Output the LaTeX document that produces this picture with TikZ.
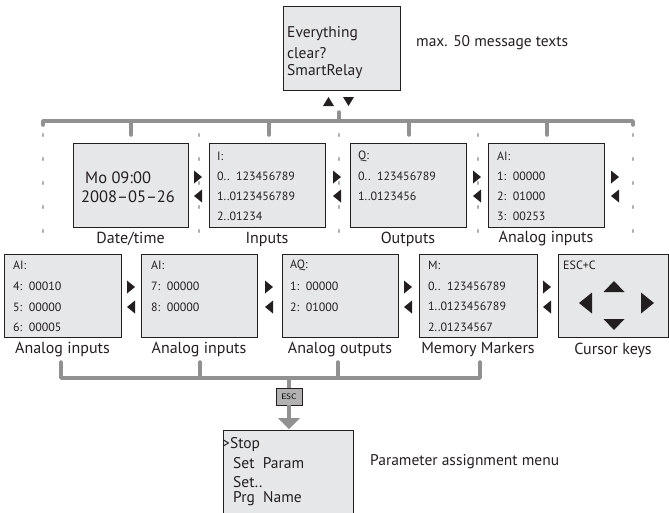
\documentclass[tikz,border=0pt]{standalone}
\usepackage{fontspec}
\setmainfont{PT Sans}
\definecolor{boxgray}{RGB}{230,231,232}
\definecolor{bargray}{RGB}{145,145,145}
\definecolor{dotgray}{RGB}{175,175,175}
\definecolor{ink}{RGB}{35,31,32}
\newcommand\TriR[2]{\fill[ink, shift={(#1,#2)}] (-4,-6.5) -- (4,0) -- (-4,6.5) -- cycle;}
\newcommand\TriL[2]{\fill[ink, shift={(#1,#2)}] (4,-6.5) -- (-4,0) -- (4,6.5) -- cycle;}
\begin{document}
\begin{tikzpicture}[x=1pt,y=-1pt,
  box/.style={draw=ink, fill=boxgray, line width=0.8pt, inner sep=0pt, anchor=north west},
  bar/.style={draw=bargray, line width=3.5pt, line cap=round, line join=round},
  dots/.style={draw=dotgray, line width=2.6pt, line cap=round, dash pattern=on 2pt off 22pt},
  small/.style={text=ink, inner sep=0pt, anchor=west, font=\fontsize{12}{14}\selectfont},
  big/.style={text=ink, inner sep=0pt, anchor=west, font=\fontsize{15.5}{18}\selectfont},
  lbl/.style={text=ink, inner sep=0pt, font=\fontsize{16}{19}\selectfont}]
\useasboundingbox (0,0) rectangle (669,512);

% ---- top message box ----
\node[box, minimum width=117pt, minimum height=84pt] (msg) at (283,6) {};
\node[big] (m1) at (287,34) {Everything};
\node[big] (m2) at (287,53) {clear?};
\node[big] (m3) at (287,72) {SmartRelay};
\node[big] (mtxt) at (416,43) {max. 50 message texts};
\fill[ink] (323,106) -- (334,106) -- (328.5,97) -- cycle;
\fill[ink] (343,97) -- (354,97) -- (348.5,106) -- cycle;

% ---- top bar ----
\coordinate (tl) at (43,121);
\coordinate (tr) at (633,121);
\draw[bar] (43,125) -- (tl) -- (tr) -- (633,125);
\draw[bar] (339,112) -- (339,121);
\foreach \x in {131,269,409,547} \draw[bar] (\x,121) -- (\x,135);
\foreach \x in {43,199,339,478,633} \draw[dots] (\x,134) -- (\x,246);

% ---- top row boxes ----
\node[box, minimum width=115pt, minimum height=84pt] (date) at (73,143) {};
\node[box, minimum width=116pt, minimum height=84pt] (inp) at (209,143) {};
\node[box, minimum width=116pt, minimum height=84pt] (outp) at (350,143) {};
\node[box, minimum width=116pt, minimum height=84pt] (ai1) at (488,143) {};

\node[text=ink, inner sep=0pt, anchor=west, font=\fontsize{16.5}{19}\selectfont] (d1) at (85,178) {Mo 09:00};
\node[text=ink, inner sep=0pt, anchor=west, font=\fontsize{16.5}{19}\selectfont] (d2) at (81,197) {2008--05--26};

\node[small] (i0) at (217,156) {I:};
\node[small] (i1) at (217,176) {0..\ \ 123456789};
\node[small] (i2) at (217,196) {1..0123456789};
\node[small] (i3) at (217,216) {2..01234};

\node[small] (q0) at (358,156) {Q:};
\node[small] (q1) at (358,176) {0..\ \ 123456789};
\node[small] (q2) at (358,196) {1..0123456};

\node[small] (a0) at (497,156) {AI:};
\node[small] (a1) at (497,176) {1:\ \ 00000};
\node[small] (a2) at (497,196) {2:\ \ 01000};
\node[small] (a3) at (497,216) {3:\ \ 00253};

\node[lbl] (ldate) at (130.5,239) {Date/time};
\node[lbl] (linp) at (267,239) {Inputs};
\node[lbl] (lout) at (408,239) {Outputs};
\node[lbl] (lai1) at (546,239) {Analog inputs};

\foreach \x in {198,337,477,615} {\TriR{\x}{177}\TriL{\x}{196}}

% ---- bottom row boxes ----
\node[box, minimum width=117pt, minimum height=83pt] (b1) at (4,254) {};
\node[box, minimum width=116pt, minimum height=83pt] (b2) at (141,254) {};
\node[box, minimum width=116pt, minimum height=83pt] (b3) at (282,254) {};
\node[box, minimum width=118pt, minimum height=83pt] (b4) at (419,254) {};
\node[box, minimum width=110pt, minimum height=83pt] (b5) at (558,254) {};

\node[small] (b1t0) at (13,265) {AI:};
\node[small] (b1t1) at (13,286) {4:\ \ 00010};
\node[small] (b1t2) at (13,307) {5:\ \ 00000};
\node[small] (b1t3) at (13,327) {6:\ \ 00005};

\node[small] (b2t0) at (151,265) {AI:};
\node[small] (b2t1) at (151,286) {7:\ \ 00000};
\node[small] (b2t2) at (151,307) {8:\ \ 00000};

\node[small] (b3t0) at (290,265) {AQ:};
\node[small] (b3t1) at (290,286) {1:\ \ 00000};
\node[small] (b3t2) at (290,307) {2:\ \ 01000};

\node[small] (b4t0) at (428,265) {M:};
\node[small] (b4t1) at (428,286) {0..\ \ 123456789};
\node[small] (b4t2) at (428,306) {1..0123456789};
\node[small] (b4t3) at (428,327) {2..01234567};

\node[small] (b5t0) at (563,265) {ESC+C};
\fill[ink] (603.5,292) -- (624.5,292) -- (614,281) -- cycle;
\fill[ink] (603.5,319) -- (624.5,319) -- (614,330) -- cycle;
\fill[ink] (592,292.5) -- (592,313.5) -- (579,303) -- cycle;
\fill[ink] (641,292.5) -- (641,313.5) -- (654,303) -- cycle;

\node[lbl] (lb1) at (62.5,350) {Analog inputs};
\node[lbl] (lb2) at (199,350) {Analog inputs};
\node[lbl] (lb3) at (340,350) {Analog outputs};
\node[lbl] (lb4) at (478,350) {Memory Markers};
\node[lbl] (lb5) at (613,350) {Cursor keys};

\foreach \x in {131,269,408,547} {\TriR{\x}{287}\TriL{\x}{307}}

% ---- bottom bar, ESC ----
\coordinate (bl) at (61,378);
\coordinate (br) at (480,378);
\draw[bar] (61,362) -- (bl) -- (br) -- (480,362);
\draw[bar] (200,362) -- (200,378);
\draw[bar] (338,362) -- (338,378);
\node[draw=ink, fill=bargray!70, line width=0.6pt, minimum width=26pt, minimum height=17pt, inner sep=0pt,
      font=\fontsize{8}{9}\selectfont\sffamily] (esc) at (289,396.5) {ESC};
\coordinate (escin) at (289,378);
\coordinate (arrtip) at (289,419);
\draw[bar, line cap=butt] (escin) -- (esc.north);
\draw[bar, line cap=butt] (esc.south) -- (arrtip);
\fill[bargray] (278,418) -- (300,418) -- (289,429) -- cycle;

% ---- parameter menu ----
\node[box, minimum width=130pt, minimum height=95pt] (menu) at (223,430) {};
\node[big] (p1) at (222,445) {>Stop};
\node[big] (p2) at (233,463) {Set\ \ Param};
\node[big] (p3) at (233,482) {Set..};
\node[big] (p4) at (233,499) {Prg\ \ Name};
\node[big] (ptxt) at (370,462) {Parameter assignment menu};
\end{tikzpicture}
\end{document}
